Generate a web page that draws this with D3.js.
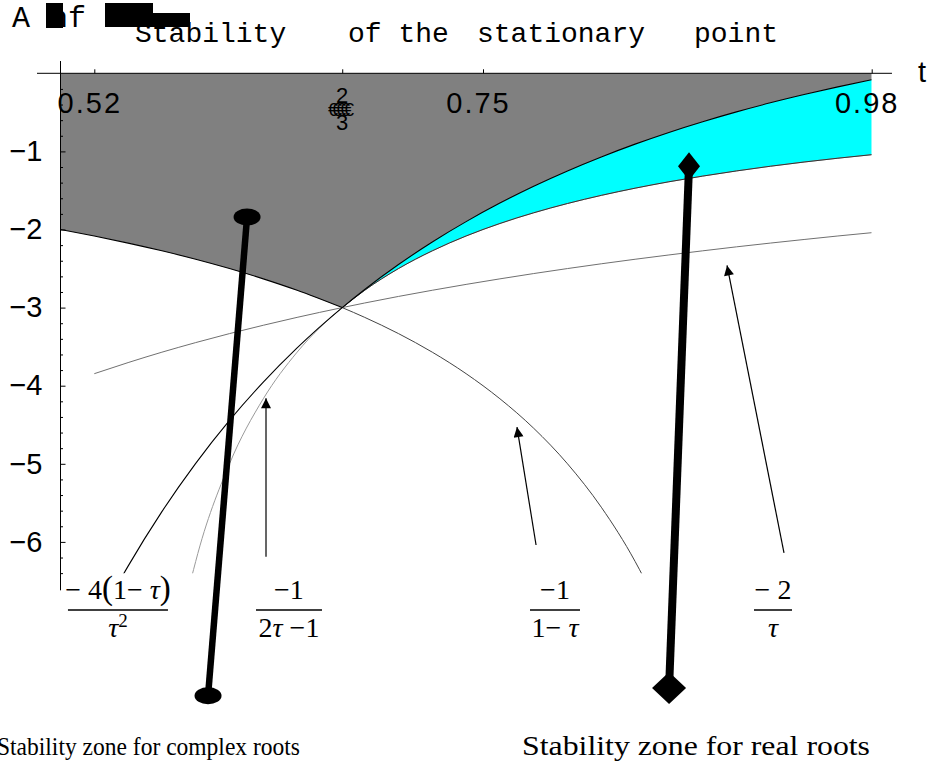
<!DOCTYPE html>
<html>
<head>
<meta charset="utf-8">
<script src="https://cdn.jsdelivr.net/npm/d3@7"></script>
<style>
  body { margin: 0; background: #fff; }
  svg { display: block; }
  .axis text { font-family: "Liberation Sans", Arial, sans-serif; font-size: 29px; fill: #000; }
  .axis path, .axis line { stroke: #000; }
</style>
</head>
<body>
<svg id="chart"></svg>
<script>
// sample points of the boundary curves
const tau = [0.50, 0.52, 0.54, 0.56, 0.58, 0.60, 0.62, 0.64, 0.6667, 0.68, 0.70, 0.72, 0.74,
  0.76, 0.78, 0.80, 0.82, 0.84, 0.86, 0.88, 0.90, 0.92, 0.94, 0.96, 0.98];
// -4(1-t)/t^2
const complexEdge = [-8.000, -7.101, -6.310, -5.612, -4.994, -4.444, -3.954, -3.516, -3.000, -2.768,
  -2.449, -2.160, -1.899, -1.662, -1.446, -1.250, -1.071, -0.907, -0.757, -0.620, -0.494, -0.378,
  -0.272, -0.174, -0.083];
// -1/(2t-1)
const realEdge = [null, -25.00, -12.50, -8.333, -6.250, -5.000, -4.167, -3.571, -3.000, -2.778,
  -2.500, -2.273, -2.083, -1.923, -1.786, -1.667, -1.563, -1.471, -1.389, -1.316, -1.250, -1.190,
  -1.136, -1.087, -1.042];
// -1/(1-t)
const oneMinusEdge = [-2.000, -2.083, -2.174, -2.273, -2.381, -2.500, -2.632, -2.778, -3.000, -3.125,
  -3.333, -3.571, -3.846, -4.167, -4.545, -5.000, -5.556, -6.250, -7.143, -8.333, -10.00, -12.50,
  -16.67, -25.00, -50.00];
// -2/t
const twoOverEdge = [null, -3.846, -3.704, -3.571, -3.448, -3.333, -3.226, -3.125, -3.000, -2.941,
  -2.857, -2.778, -2.703, -2.632, -2.564, -2.500, -2.439, -2.381, -2.326, -2.273, -2.222, -2.174,
  -2.128, -2.083, -2.041];

const xTicks = [0.52, 0.6667, 0.75, 0.98];
const xTickLabels = ["0.52", "", "0.75", "0.98"];
const yTicks = [-1, -2, -3, -4, -5, -6];
const yMinor = [-0.2, -0.4, -0.6, -0.8, -1.2, -1.4, -1.6, -1.8, -2.2, -2.4, -2.6, -2.8, -3.2, -3.4,
  -3.6, -3.8, -4.2, -4.4, -4.6, -4.8, -5.2, -5.4, -5.6, -5.8, -6.2, -6.4];

// annotation arrows [t0, a0, t1, a1]
const thinArrows = [[0.6216, -6.19, 0.6216, -4.16], [0.7814, -6.04, 0.7701, -4.53], [0.9281, -6.14, 0.8944, -2.46]];
const complexPointer = [0.5873, -7.97, 0.6104, -1.84];
const realPointer = [0.8601, -7.87, 0.8719, -1.19];

const width = 931, height = 765;
const svg = d3.select("#chart").attr("width", width).attr("height", height);

const x = d3.scaleLinear().domain([0.5, 0.98]).range([60.5, 871.7]);
const y = d3.scaleLinear().domain([0, -1]).range([73.3, 151.4]);
const yBottom = -6.4;

const pts = (vals, keep) => tau.map((t, i) => ({t: t, v: vals[i]}))
  .filter(d => d.v !== null && (!keep || keep(d.t)));

svg.append("clipPath").attr("id", "plot")
  .append("rect")
  .attr("x", x(0.5)).attr("y", y(0.2))
  .attr("width", x(0.98) - x(0.5)).attr("height", y(yBottom) - y(0.2));

const plot = svg.append("g").attr("clip-path", "url(#plot)");

const line = d3.line().x(d => x(d.t)).y(d => y(d.v)).curve(d3.curveMonotoneX);

// grey zone: between 0 and the lower stability edge
const leftPart = pts(oneMinusEdge, t => t <= 0.6667);
const rightPart = pts(complexEdge, t => t >= 0.6667);
const grey = [{t: 0.5, v: 0}, {t: 0.98, v: 0}]
  .concat(rightPart.slice().reverse()).concat(leftPart.slice().reverse());
plot.append("path")
  .attr("d", d3.line().x(d => x(d.t)).y(d => y(d.v))(grey))
  .attr("fill", "#808080");

// cyan zone between -4(1-t)/t^2 and -1/(2t-1)
const lowCyan = pts(realEdge, t => t >= 0.6667);
const area = d3.area().x(d => x(d.t)).y0(d => y(d.lo)).y1(d => y(d.hi)).curve(d3.curveMonotoneX);
plot.append("path")
  .datum(rightPart.map((d, i) => ({t: d.t, hi: d.v, lo: lowCyan[i].v})))
  .attr("d", area)
  .attr("fill", "#00ffff");

plot.append("path").datum(pts(twoOverEdge)).attr("d", line)
  .attr("fill", "none").attr("stroke", "#707070").attr("stroke-width", 1);
plot.append("path").datum(pts(realEdge)).attr("d", line)
  .attr("fill", "none").attr("stroke", "#9a9a9a").attr("stroke-width", 1);
plot.append("path").datum(lowCyan).attr("d", line)
  .attr("fill", "none").attr("stroke", "#333").attr("stroke-width", 1);
plot.append("path").datum(pts(oneMinusEdge, t => t >= 0.6667)).attr("d", line)
  .attr("fill", "none").attr("stroke", "#444").attr("stroke-width", 1);
plot.append("path").datum(leftPart).attr("d", line)
  .attr("fill", "none").attr("stroke", "#000").attr("stroke-width", 1.1);
plot.append("path").datum(pts(complexEdge)).attr("d", line)
  .attr("fill", "none").attr("stroke", "#000").attr("stroke-width", 1.1);

// axes
const yAxisG = svg.append("g").attr("class", "axis")
  .attr("transform", `translate(${x(0.5)},0)`);
yAxisG.append("line")
  .attr("y1", y(0.157)).attr("y2", y(-6.62)).attr("stroke", "#000");
yAxisG.call(d3.axisLeft(y).tickValues(yTicks).tickSizeInner(-5).tickSizeOuter(0)
  .tickPadding(18).tickFormat(d => "\u2212" + Math.abs(d)));
yAxisG.select(".domain").remove();
const yMinorG = svg.append("g").attr("class", "axis")
  .attr("transform", `translate(${x(0.5)},0)`)
  .call(d3.axisLeft(y).tickValues(yMinor).tickSizeInner(-2.5).tickSizeOuter(0).tickFormat(""));
yMinorG.select(".domain").remove();

const xAxisG = svg.append("g").attr("class", "axis")
  .attr("transform", `translate(0,${y(0)})`);
xAxisG.append("line")
  .attr("x1", x(0.4861)).attr("x2", x(0.992)).attr("stroke", "#000");
xAxisG.call(d3.axisBottom(x).tickValues(xTicks).tickSizeInner(-4).tickSizeOuter(0)
  .tickPadding(19).tickFormat((d, i) => xTickLabels[i]));
xAxisG.select(".domain").remove();
xAxisG.selectAll(".tick text").attr("dx", -5).style("letter-spacing", "2px");

// the 2/3 tick label, printed as a broken fraction
const frac = svg.append("g").attr("font-family", "Liberation Sans, Arial, sans-serif");
frac.append("text").attr("x", x(0.6667)).attr("y", 103).attr("text-anchor", "middle")
  .attr("font-size", 22).text("2");
frac.append("text").attr("x", x(0.6667)).attr("y", 130).attr("text-anchor", "middle")
  .attr("font-size", 22).text("3");
[0, 4, 8, 12, 16].forEach(k => {
  frac.append("text").attr("x", 328 + k).attr("y", 116)
    .attr("font-size", 18).text("\u20ac");
});

svg.append("text").attr("x", 918).attr("y", 82)
  .attr("font-family", "Liberation Sans, Arial, sans-serif").attr("font-size", 29).text("t");

// title
const mono = "Liberation Mono, Courier New, monospace";
[["Stability", 135], ["of the", 348], ["stationary", 477], ["point", 694]].forEach(w => {
  svg.append("text").attr("x", w[1]).attr("y", 42).attr("font-family", mono)
    .attr("font-size", 28).text(w[0]);
});
svg.append("text").attr("x", 12).attr("y", 27).attr("font-family", mono)
  .attr("font-size", 30).text("A");
svg.append("text").attr("x", 50).attr("y", 27).attr("font-family", mono)
  .attr("font-size", 30).text("hf");
svg.append("rect").attr("x", 46).attr("y", 3).attr("width", 17).attr("height", 25);
svg.append("rect").attr("x", 105).attr("y", 3).attr("width", 48).attr("height", 12);
svg.append("rect").attr("x", 105).attr("y", 13).attr("width", 85).attr("height", 14);

// thin arrows
svg.append("defs").append("marker").attr("id", "head")
  .attr("viewBox", "0 0 10 10").attr("refX", 10).attr("refY", 5)
  .attr("markerWidth", 15).attr("markerHeight", 10).attr("markerUnits", "userSpaceOnUse")
  .attr("orient", "auto")
  .append("path").attr("d", "M0,0L10,5L0,10z").attr("fill", "#000");
svg.selectAll(".arrow").data(thinArrows).join("line").attr("class", "arrow")
  .attr("x1", d => x(d[0])).attr("y1", d => y(d[1]))
  .attr("x2", d => x(d[2])).attr("y2", d => y(d[3]))
  .attr("stroke", "#000").attr("stroke-width", 1.2).attr("marker-end", "url(#head)");

// thick pointers
svg.append("line")
  .attr("x1", x(complexPointer[0])).attr("y1", y(complexPointer[1]))
  .attr("x2", x(complexPointer[2])).attr("y2", y(complexPointer[3]))
  .attr("stroke", "#000").attr("stroke-width", 6.5);
svg.append("ellipse").attr("cx", x(complexPointer[0])).attr("cy", y(complexPointer[1]))
  .attr("rx", 13.5).attr("ry", 8.5);
svg.append("ellipse").attr("cx", x(complexPointer[2])).attr("cy", y(complexPointer[3]))
  .attr("rx", 13.5).attr("ry", 8.5);

svg.append("line")
  .attr("x1", x(realPointer[0])).attr("y1", y(realPointer[1]))
  .attr("x2", x(realPointer[2])).attr("y2", y(realPointer[3]))
  .attr("stroke", "#000").attr("stroke-width", 8);
const diamond = (cx, cy, w, h) => `M${cx},${cy - h}L${cx + w},${cy}L${cx},${cy + h}L${cx - w},${cy}Z`;
svg.append("path").attr("d", diamond(x(realPointer[0]), y(realPointer[1]), 17, 16));
svg.append("path").attr("d", diamond(x(realPointer[2]), y(realPointer[3]), 11, 14));

// fraction labels under the curves
const serif = "Liberation Serif, Times New Roman, serif";
function fraction(cx, num, den, barW) {
  const g = svg.append("g").attr("font-family", serif).attr("font-size", 28);
  const n = g.append("text").attr("x", cx).attr("y", 599).attr("text-anchor", "middle");
  num.forEach(p => n.append("tspan").text(p[0])
    .attr("font-style", p[1] ? "italic" : null).attr("font-size", p[2] || null)
    .attr("baseline-shift", p[3] || null));
  g.append("line").attr("x1", cx - barW / 2).attr("x2", cx + barW / 2)
    .attr("y1", 610).attr("y2", 610).attr("stroke", "#000").attr("stroke-width", 1.3);
  const dn = g.append("text").attr("x", cx).attr("y", 637).attr("text-anchor", "middle");
  den.forEach(p => dn.append("tspan").text(p[0])
    .attr("font-style", p[1] ? "italic" : null).attr("font-size", p[2] || null)
    .attr("baseline-shift", p[3] || null));
}
fraction(x(0.534), [["\u2212 4", 0], ["(", 0, 33], ["1\u2212 ", 0], ["\u03c4", 1], [")", 0, 33]],
  [["\u03c4", 1], ["2", 0, 19, "super"]], 100);
fraction(x(0.6352), [["\u22121", 0]], [["2", 0], ["\u03c4", 1], [" \u22121", 0]], 66);
fraction(x(0.7926), [["\u22121", 0]], [["1\u2212 ", 0], ["\u03c4", 1]], 50);
fraction(x(0.9216), [["\u2212 2", 0]], [["\u03c4", 1]], 38);

svg.append("text").attr("x", -3).attr("y", 755)
  .attr("textLength", 303).attr("lengthAdjust", "spacingAndGlyphs")
  .attr("font-family", serif).attr("font-size", 26).text("Stability zone for complex roots");
svg.append("text").attr("x", 522).attr("y", 755)
  .attr("textLength", 348).attr("lengthAdjust", "spacingAndGlyphs")
  .attr("font-family", serif).attr("font-size", 28).text("Stability zone for real roots");
</script>
</body>
</html>
